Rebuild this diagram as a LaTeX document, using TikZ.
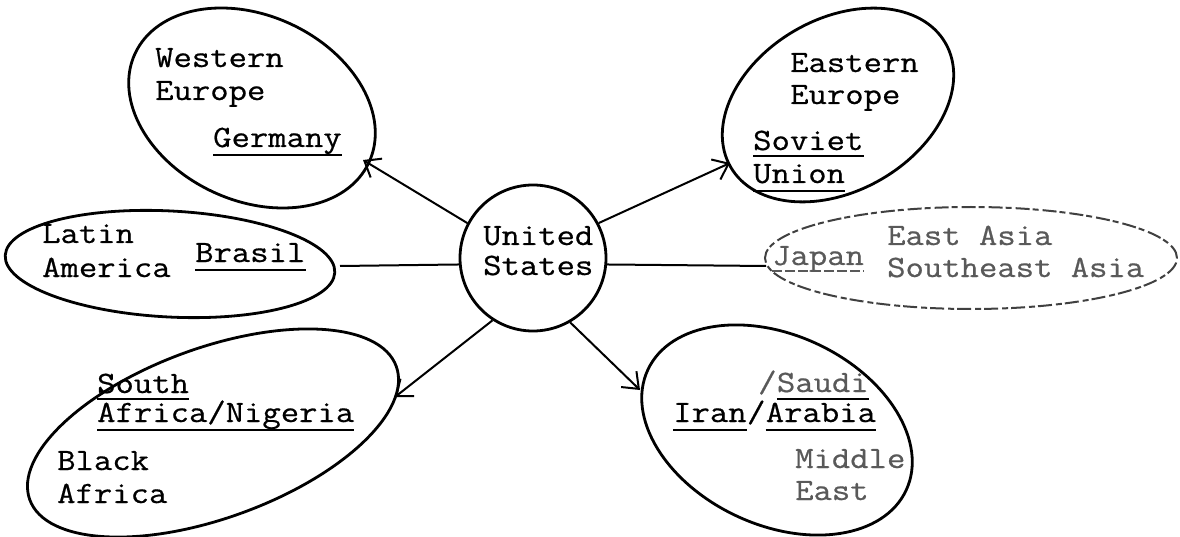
\documentclass[tikz,border=0pt]{standalone}
\usepackage{fontspec}
\newfontfamily\tw{Latin Modern Mono}[FakeStretch=1.15,FakeBold=0.6]
\usetikzlibrary{arrows.meta,shapes.geometric}
\begin{document}
\begin{tikzpicture}[x=1pt,y=-1pt,
  region/.style={draw, ellipse, line width=2.8pt, inner sep=0pt},
  faintregion/.style={draw=black!75, ellipse, line width=2pt, inner sep=0pt, dash pattern=on 14pt off 4pt on 6pt off 3pt},
  lbl/.style={anchor=base west, inner sep=0pt, font=\tw\fontsize{31}{33}\selectfont},
  faint/.style={text=black!65},
  ul/.style={line width=2.2pt},
  faintul/.style={line width=1.6pt, draw=black!65, dash pattern=on 10pt off 3pt},
  link/.style={line width=2pt},
  arr/.style={link, -{Straight Barb[length=14pt,width=22pt]}}]
\useasboundingbox (0,0) rectangle (1180,537);

% regions
\node[region, minimum width=258pt, minimum height=185pt, rotate=-25] (we) at (252,108) {};
\node[region, minimum width=248pt, minimum height=172pt, rotate=30] (ee) at (838,105) {};
\node[region, minimum width=330pt, minimum height=106pt, rotate=-3] (la) at (170,264) {};
\node[region, circle, minimum size=146pt] (us) at (533,258) {};
\node[faintregion, minimum width=412pt, minimum height=102pt] (jp) at (971,258) {};
\node[region, minimum width=390pt, minimum height=170pt, rotate=20] (ba) at (213,433) {};
\node[region, minimum width=285pt, minimum height=190pt, rotate=-25] (me) at (777,430) {};

% connector ends
\coordinate (weTip) at (363,160);
\coordinate (eeTip) at (730,163);
\coordinate (laEnd) at (340,266);
\coordinate (jpEnd) at (766,266);
\coordinate (baTip) at (395,397);
\coordinate (meTip) at (640,390);

\draw[arr] (us.152) -- (weTip);
\draw[arr] (us.28) -- (eeTip);
\draw[link] (us.185) -- (laEnd);
\draw[link] (us.355) -- (jpEnd);
\draw[arr] (us.237) -- (baTip);
\draw[arr] (us.300) -- (meTip);

% Western Europe
\node[lbl] (we1) at (155,67) {Western};
\node[lbl] (we2) at (155,100) {Europe};
\node[lbl] (we3) at (213,147) {Germany};
\draw[ul] ([yshift=-8pt]we3.base west) -- ([yshift=-8pt]we3.base east);

% Eastern Europe
\node[lbl] (ee1) at (790,72) {Eastern};
\node[lbl] (ee2) at (790,104) {Europe};
\node[lbl] (ee3) at (753,150) {Soviet};
\node[lbl] (ee4) at (753,183) {Union};
\draw[ul] ([yshift=-6pt]ee3.base west) -- ([yshift=-6pt]ee3.base east);
\draw[ul] ([yshift=-8pt]ee4.base west) -- ([yshift=-8pt]ee4.base east);

% Latin America
\node[lbl] (la1) at (42,243) {Latin};
\node[lbl] (la2) at (42,277) {America};
\node[lbl] (la3) at (195,262) {Brasil};
\draw[ul] ([yshift=-8pt]la3.base west) -- ([yshift=-8pt]la3.base east);

% United States
\node[lbl] (us1) at (483,245) {United};
\node[lbl] (us2) at (483,275) {States};

% East Asia
\node[lbl, faint] (jp1) at (772,265) {Japan};
\draw[faintul] ([yshift=-6pt]jp1.base west) -- ([yshift=-6pt]jp1.base east);
\node[lbl, faint] (jp2) at (887,245) {East Asia};
\node[lbl, faint] (jp3) at (887,277) {Southeast Asia};

% Black Africa
\node[lbl] (ba1) at (97,393) {South};
\node[lbl] (ba2) at (97,422) {Africa/Nigeria};
\draw[ul] ([yshift=-6pt]ba1.base west) -- ([yshift=-6pt]ba1.base east);
\draw[ul] ([yshift=-8pt]ba2.base west) -- ([yshift=-8pt]ba2.base east);
\node[lbl] (ba3) at (57,470) {Black};
\node[lbl] (ba4) at (57,503) {Africa};

% Middle East
\node[lbl, faint] (me1) at (758,392) {/};
\node[lbl, faint] (me2) at (me1.base east) {Saudi};
\draw[ul] ([yshift=-7pt]me2.base west) -- ([yshift=-7pt]me2.base east);
\node[lbl] (me3) at (673,422) {Iran};
\node[lbl] (me4) at (me3.base east) {/};
\node[lbl] (me5) at (me4.base east) {Arabia};
\draw[ul] ([yshift=-8pt]me3.base west) -- ([yshift=-8pt]me3.base east);
\draw[ul] ([yshift=-8pt]me5.base west) -- ([yshift=-8pt]me5.base east);
\node[lbl, faint] (me6) at (795,468) {Middle};
\node[lbl, faint] (me7) at (795,500) {East};
\end{tikzpicture}
\end{document}
